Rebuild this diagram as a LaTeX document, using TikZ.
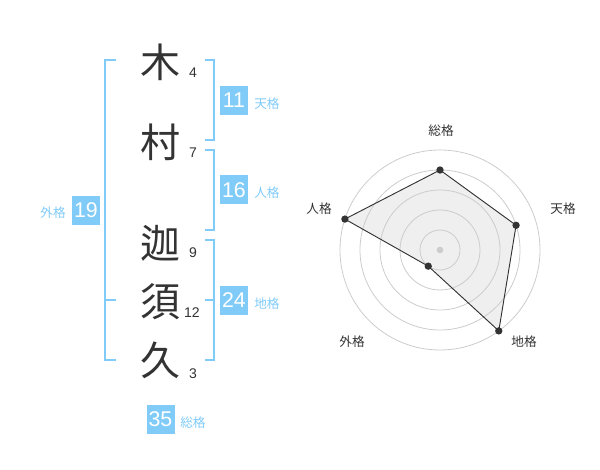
\documentclass[tikz,border=0pt]{standalone}
\usepackage{fontspec}
\setmainfont{Liberation Sans}
\newfontfamily\jp{Noto Sans CJK JP}
\definecolor{kblue}{HTML}{80CBF8}
\definecolor{ink}{HTML}{333333}
\definecolor{ring}{HTML}{CCCCCC}
\definecolor{area}{HTML}{EFEFEF}
\begin{document}
\begin{tikzpicture}[x=0.75pt,y=-0.75pt,
  kanji/.style={font=\jp\fontsize{30}{30}\selectfont, text=ink, inner sep=0pt},
  strokes/.style={font=\fontsize{10.5}{10.5}\selectfont, text=ink, inner sep=0pt},
  numbox/.style={fill=kblue, text=white, minimum width=21pt, minimum height=21.75pt, inner sep=0pt, font=\fontsize{16}{16}\selectfont},
  kaku/.style={font=\jp\fontsize{9.5}{9.5}\selectfont, text=kblue, inner sep=0pt},
  bracket/.style={draw=kblue, line width=1.5pt},
  ringline/.style={draw=ring, line width=0.6pt},
  axislabel/.style={font=\jp\fontsize{9.5}{9.5}\selectfont, text=ink, inner sep=0pt},
  dot/.style={circle, fill=ink, minimum size=5.5pt, inner sep=0pt}
]
\useasboundingbox (0,0) rectangle (600,470);
% characters
\node[kanji] (k1) at (160,62) {木};
\node[kanji] (k2) at (160,142) {村};
\node[kanji] (k3) at (160,243) {迦};
\node[kanji] (k4) at (160,302) {須};
\node[kanji] (k5) at (160,360) {久};
% stroke counts
\node[strokes] (s1) at (193,73) {4};
\node[strokes] (s2) at (193,153) {7};
\node[strokes] (s3) at (193,253) {9};
\node[strokes] (s4) at (192,313) {12};
\node[strokes] (s5) at (193,374) {3};
% brackets
\draw[bracket] (205,60) -- (214,60) -- (214,140) -- (205,140);
\draw[bracket] (205,150) -- (214,150) -- (214,230) -- (205,230);
\draw[bracket] (205,240) -- (214,240) -- (214,360) -- (205,360);
\draw[bracket] (205,300) -- (214,300);
\draw[bracket] (116,60) -- (105,60) -- (105,360) -- (116,360);
\draw[bracket] (105,300) -- (116,300);
% boxes
\node[numbox] (b11) at (234,100.5) {11};
\node[kaku, anchor=west] (t11) at (254,104) {天格};
\node[numbox] (b16) at (234,190) {16};
\node[kaku, anchor=west] (t16) at (254,193) {人格};
\node[numbox] (b19) at (86,210.5) {19};
\node[kaku, anchor=east] (t19) at (66,213) {外格};
\node[numbox] (b24) at (234,300.5) {24};
\node[kaku, anchor=west] (t24) at (254,304) {地格};
\node[numbox] (b35) at (160.5,419) {35};
\node[kaku, anchor=west] (t35) at (180,423) {総格};
% radar
\coordinate (c) at (440,250);
\path (c) ++(90:60pt) coordinate (p1);
\path (c) ++(18:60pt) coordinate (p2);
\path (c) ++(-54:75pt) coordinate (p3);
\path (c) ++(-126:15pt) coordinate (p4);
\path (c) ++(162:75pt) coordinate (p5);
\fill[area] (p1) -- (p2) -- (p3) -- (p4) -- (p5) -- cycle;
\foreach \r in {15,30,45,60,75} \draw[ringline] (c) circle[radius=\r pt];
\draw[ink, line width=0.7pt] (p1) -- (p2) -- (p3) -- (p4) -- (p5) -- cycle;
\node[circle, fill=ring, minimum size=5pt, inner sep=0pt] (cd) at (c) {};
\foreach \i in {1,...,5} \node[dot] (d\i) at (p\i) {};
\node[axislabel] (l1) at (441,131) {総格};
\node[axislabel] (l2) at (563,209) {天格};
\node[axislabel] (l3) at (524,342) {地格};
\node[axislabel] (l4) at (352,342) {外格};
\node[axislabel] (l5) at (319,209) {人格};
\end{tikzpicture}
\end{document}
